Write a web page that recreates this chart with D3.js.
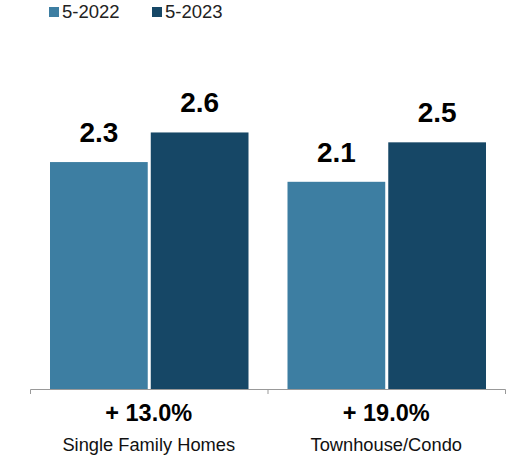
<!DOCTYPE html>
<html>
<head>
<meta charset="utf-8">
<script src="https://cdn.jsdelivr.net/npm/d3@7"></script>
<style>
  body { margin: 0; background: #fff; }
  text { font-family: "Liberation Sans", Arial, sans-serif; }
</style>
</head>
<body>
<div id="chart"></div>
<script>
// chart data
var categories = ["Single Family Homes", "Townhouse/Condo"];
var seriesNames = ["5-2022", "5-2023"];
var values2022 = [2.3, 2.1];
var values2023 = [2.6, 2.5];
var changes = ["+ 13.0%", "+ 19.0%"];
var colors = ["#3d7ea2", "#164766"];

var width = 513, height = 455;
var margin = {top: 40, right: 8, bottom: 66, left: 30};
var baseY = 389;

var svg = d3.select("#chart")
  .append("svg")
    .attr("width", width)
    .attr("height", height);

var x0 = d3.scaleBand()
    .domain(categories)
    .range([margin.left, width - margin.right])
    .paddingInner(0)
    .paddingOuter(0);

var x1 = d3.scaleBand()
    .domain(seriesNames)
    .range([20, x0.bandwidth() - 19])
    .paddingInner(0.03);

var y = d3.scaleLinear()
    .domain([0, 3])
    .range([baseY, baseY - 296]);

var rows = categories.map(function(c, i) {
  return {cat: c, vals: [values2022[i], values2023[i]], change: changes[i]};
});

var groups = svg.selectAll(".grp")
  .data(rows)
  .enter().append("g")
    .attr("class", "grp")
    .attr("transform", function(d) { return "translate(" + x0(d.cat) + ",0)"; });

groups.selectAll("rect")
  .data(function(d) { return d.vals.map(function(v, j) { return {s: seriesNames[j], v: v, j: j}; }); })
  .enter().append("rect")
    .attr("x", function(d) { return x1(d.s); })
    .attr("width", x1.bandwidth())
    .attr("y", function(d) { return y(d.v); })
    .attr("height", function(d) { return baseY - y(d.v); })
    .attr("fill", function(d) { return colors[d.j]; });

groups.selectAll(".val")
  .data(function(d) { return d.vals.map(function(v, j) { return {s: seriesNames[j], v: v}; }); })
  .enter().append("text")
    .attr("class", "val")
    .attr("x", function(d) { return x1(d.s) + x1.bandwidth() / 2; })
    .attr("y", function(d) { return y(d.v) - 20; })
    .attr("text-anchor", "middle")
    .style("font-size", "28px")
    .style("font-weight", "bold")
    .text(function(d) { return d.v.toFixed(1); });

// axis line with end ticks
var axis = d3.axisBottom(x0).tickValues([]).tickSizeOuter(5);
svg.append("g")
    .attr("transform", "translate(0," + baseY + ")")
    .call(axis)
    .call(function(g) { g.select(".domain").attr("stroke", "#999"); });

// middle divider tick
svg.append("line")
    .attr("x1", x0(categories[1]) + 0.5).attr("x2", x0(categories[1]) + 0.5)
    .attr("y1", baseY).attr("y2", baseY + 5)
    .attr("stroke", "#999");

groups.append("text")
    .attr("x", x0.bandwidth() / 2)
    .attr("y", 421)
    .attr("text-anchor", "middle")
    .style("font-size", "23.5px")
    .style("font-weight", "bold")
    .text(function(d) { return d.change; });

groups.append("text")
    .attr("x", x0.bandwidth() / 2)
    .attr("y", 451)
    .attr("text-anchor", "middle")
    .style("font-size", "18.3px")
    .attr("fill", "#111")
    .text(function(d) { return d.cat; });

// legend
var legend = svg.selectAll(".leg")
  .data(seriesNames)
  .enter().append("g")
    .attr("class", "leg")
    .attr("transform", function(d, i) { return "translate(" + (49 + i * 103) + ",7)"; });

legend.append("rect")
    .attr("width", 10).attr("height", 10)
    .attr("fill", function(d, i) { return colors[i]; });

legend.append("text")
    .attr("x", 13).attr("y", 11)
    .style("font-size", "18.5px")
    .attr("fill", "#222")
    .text(function(d) { return d; });
</script>
</body>
</html>
